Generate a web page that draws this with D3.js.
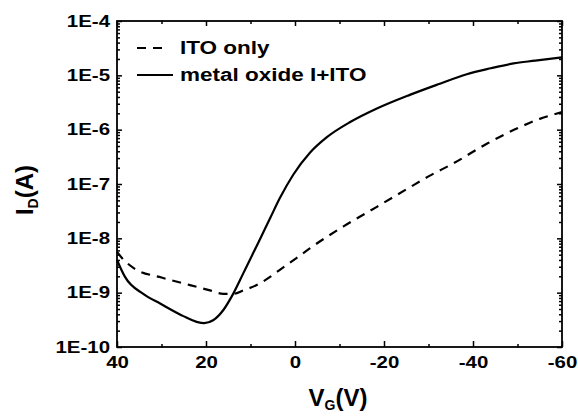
<!DOCTYPE html>
<html>
<head>
<meta charset="utf-8">
<script src="https://cdn.jsdelivr.net/npm/d3@7"></script>
<style>
  body { margin: 0; background: #fff; }
  text { font-family: "Liberation Sans", Arial, sans-serif; font-weight: bold; fill: #000; }
</style>
</head>
<body>
<div id="chart"></div>
<script>
// Gate voltage (V) and drain current (A)
var vgMetal = [40, 38.2, 34.1, 30.3, 25.1, 22.1, 20.4, 18.4, 16.1, 13.9, 11.6, 9.5, 7.9, 5.6, 3.4, 0.4,
               -3.4, -7.1, -12.4, -18.4, -25.8, -32, -38.6, -44, -49.1, -54, -60];
var idMetal = [4.0e-9, 1.95e-9, 9.5e-10, 6.3e-10, 3.7e-10, 2.9e-10, 2.75e-10, 3.1e-10, 4.8e-10, 9.5e-10,
               2.29e-9, 5.13e-9, 9.55e-9, 2.34e-8, 5.5e-8, 1.48e-7, 3.8e-7, 7.2e-7, 1.38e-6, 2.45e-6,
               4.37e-6, 6.76e-6, 1.05e-5, 1.35e-5, 1.66e-5, 1.86e-5, 2.14e-5];

var vgIto = [40, 38.6, 36, 30, 23.6, 19.1, 16.1, 13.9, 11.6, 7.9, 5.6, 3.4, -0.4, -3.4, -10.9, -18.4,
             -25.8, -30, -35.6, -43.1, -50.6, -55, -60];
var idIto = [5.6e-9, 4.1e-9, 2.75e-9, 1.9e-9, 1.38e-9, 1.1e-9, 9.5e-10, 9.5e-10, 1.1e-9, 1.48e-9,
             1.95e-9, 2.63e-9, 4.37e-9, 6.6e-9, 1.66e-8, 3.8e-8, 8.7e-8, 1.38e-7, 2.4e-7, 5.5e-7,
             1.12e-6, 1.58e-6, 2.1e-6];

var xTicks = [40, 20, 0, -20, -40, -60];
var xMinor = [30, 10, -10, -30, -50];
var yTicks = [1e-10, 1e-9, 1e-8, 1e-7, 1e-6, 1e-5, 1e-4];
var legendLabels = ["ITO only", "metal oxide I+ITO"];

var svgWidth = 578, svgHeight = 418;
var margin = { top: 21, right: 16, bottom: 71, left: 117 },
    width = svgWidth - margin.left - margin.right,
    height = svgHeight - margin.top - margin.bottom;

var svg = d3.select("#chart").append("svg")
    .attr("width", svgWidth)
    .attr("height", svgHeight);

var g = svg.append("g")
    .attr("transform", "translate(" + margin.left + "," + margin.top + ")");

var x = d3.scaleLinear().domain([40, -60]).range([0, width]);
var y = d3.scaleLog().domain([1e-10, 1e-4]).range([height, 0]);

// minor log ticks 2..9 in each decade
var yMinor = [];
yTicks.slice(0, -1).forEach(function(d) {
  for (var k = 2; k <= 9; k++) yMinor.push(d * k);
});

var tickFont = 16.5, stretch = 1.24;

function styleAxis(sel) {
  sel.select(".domain").remove();
  sel.selectAll("line").attr("stroke", "#000").attr("stroke-width", 1.5);
}

// left axis
g.append("g")
    .call(d3.axisLeft(y).tickValues(yTicks).tickSize(-5).tickPadding(7)
      .tickFormat(function(d) { return "1E" + Math.round(Math.log10(d)); }))
    .call(styleAxis)
    .selectAll("text")
      .style("font-size", tickFont + "px")
      .attr("x", -7 / stretch)
      .attr("transform", "scale(" + stretch + ",1)");
g.append("g")
    .call(d3.axisLeft(y).tickValues(yMinor).tickSize(-3).tickFormat(""))
    .call(styleAxis);

// right axis
g.append("g")
    .attr("transform", "translate(" + width + ",0)")
    .call(d3.axisRight(y).tickValues(yTicks).tickSize(-5).tickFormat(""))
    .call(styleAxis);
g.append("g")
    .attr("transform", "translate(" + width + ",0)")
    .call(d3.axisRight(y).tickValues(yMinor).tickSize(-3).tickFormat(""))
    .call(styleAxis);

// bottom axis
g.append("g")
    .attr("transform", "translate(0," + height + ")")
    .call(d3.axisBottom(x).tickValues(xTicks).tickSize(-6).tickPadding(9)
      .tickFormat(function(d) { return d; }))
    .call(styleAxis)
    .selectAll("text")
      .style("font-size", tickFont + "px")
      .attr("transform", "scale(" + stretch + ",1)");
g.append("g")
    .attr("transform", "translate(0," + height + ")")
    .call(d3.axisBottom(x).tickValues(xMinor).tickSize(-3).tickFormat(""))
    .call(styleAxis);

// top axis
g.append("g")
    .call(d3.axisTop(x).tickValues(xTicks).tickSize(-5).tickFormat(""))
    .call(styleAxis);
g.append("g")
    .call(d3.axisTop(x).tickValues(xMinor).tickSize(-3).tickFormat(""))
    .call(styleAxis);

// frame
g.append("rect")
    .attr("width", width)
    .attr("height", height)
    .attr("fill", "none")
    .attr("stroke", "#000")
    .attr("stroke-width", 1.8);

// curves
var line = d3.line()
    .x(function(d) { return x(d[0]); })
    .y(function(d) { return y(d[1]); })
    .curve(d3.curveMonotoneX);

g.append("path")
    .datum(d3.zip(vgIto, idIto))
    .attr("d", line)
    .attr("fill", "none")
    .attr("stroke", "#000")
    .attr("stroke-width", 2.2)
    .attr("stroke-dasharray", "9,7");

g.append("path")
    .datum(d3.zip(vgMetal, idMetal))
    .attr("d", line)
    .attr("fill", "none")
    .attr("stroke", "#000")
    .attr("stroke-width", 2.2);

// legend
var legend = svg.append("g").attr("transform", "translate(137,48)");
legendLabels.forEach(function(label, i) {
  var row = legend.append("g").attr("transform", "translate(0," + (i * 27) + ")");
  row.append("line")
      .attr("x1", 0).attr("x2", i === 0 ? 25 : 36)
      .attr("stroke", "#000")
      .attr("stroke-width", 2.2)
      .attr("stroke-dasharray", i === 0 ? "9,7" : null);
  row.append("text")
      .attr("x", 43 / 1.25)
      .attr("dy", "0.36em")
      .attr("transform", "scale(1.25,1)")
      .style("font-size", "18px")
      .text(label);
});

// axis titles
var xt = svg.append("text")
    .attr("x", 338)
    .attr("y", 406)
    .attr("text-anchor", "middle")
    .style("font-size", "24px");
xt.append("tspan").text("V");
xt.append("tspan").attr("dy", 4).style("font-size", "14px").text("G");
xt.append("tspan").attr("dy", -4).text("(V)");

var yt = svg.append("text")
    .attr("transform", "translate(33,190) rotate(-90)")
    .attr("text-anchor", "middle")
    .style("font-size", "24px");
yt.append("tspan").text("I");
yt.append("tspan").attr("dy", 5).style("font-size", "14px").text("D");
yt.append("tspan").attr("dy", -5).text("(A)");
</script>
</body>
</html>
